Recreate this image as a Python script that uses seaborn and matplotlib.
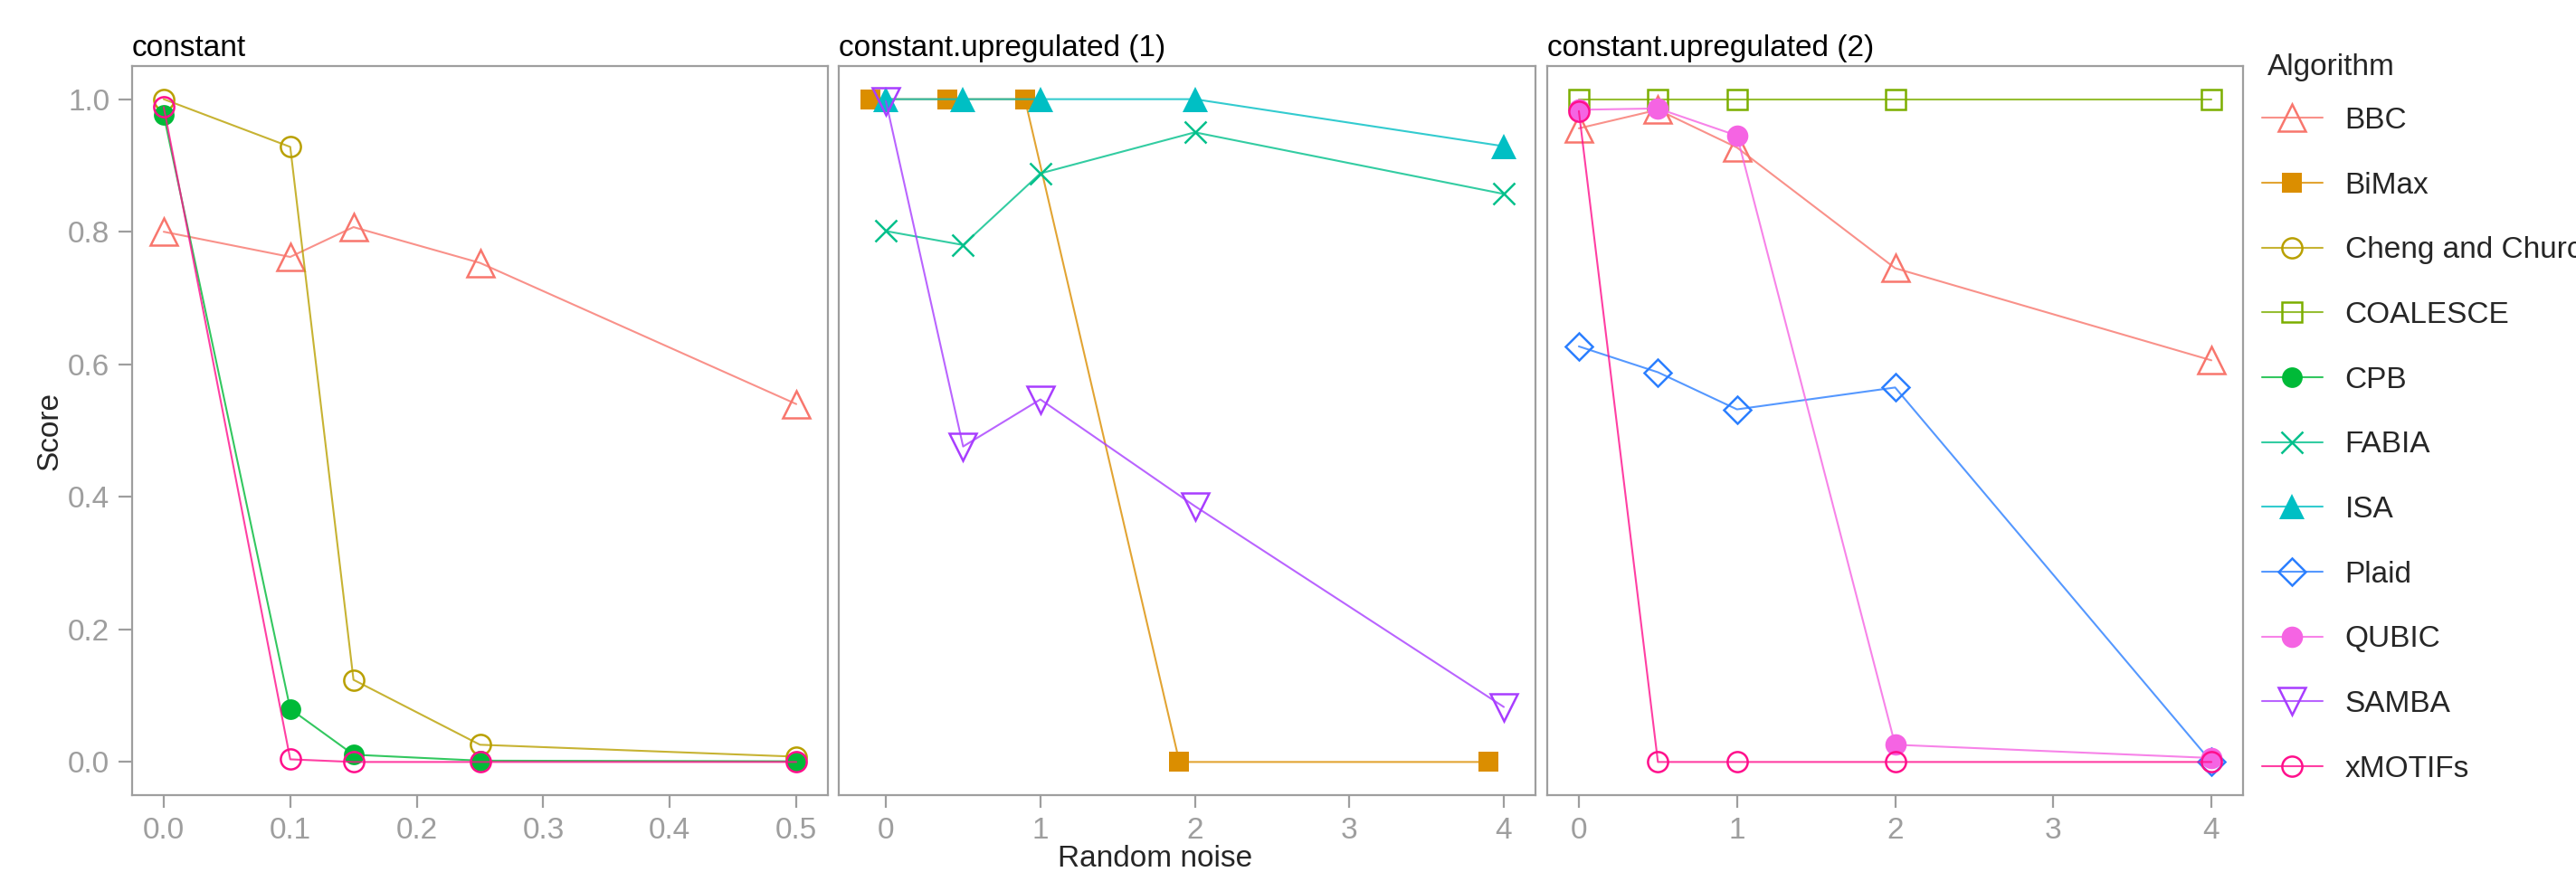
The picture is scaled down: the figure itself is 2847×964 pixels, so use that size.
import pandas as pd
import matplotlib
matplotlib.use("Agg")
import matplotlib.pyplot as plt
import seaborn as sns
from matplotlib.lines import Line2D

# facets and algorithms
panels = ["constant", "constant.upregulated (1)", "constant.upregulated (2)"]
algorithms = ["BBC", "BiMax", "Cheng and Church", "COALESCE", "CPB", "FABIA",
              "ISA", "Plaid", "QUBIC", "SAMBA", "xMOTIFs"]

# noise levels (x values)
noise_constant = [0.0, 0.1, 0.15, 0.25, 0.5]
noise_up = [0, 0.5, 1, 2, 4]
noise_bimax = [-0.1, 0.4, 0.9, 1.9, 3.9]

# scores, panel "constant"
bbc_1 = [0.800, 0.762, 0.807, 0.753, 0.540]
cheng_1 = [1.000, 0.928, 0.124, 0.026, 0.008]
cpb_1 = [0.976, 0.080, 0.011, 0.002, 0.001]
xmotifs_1 = [0.988, 0.004, 0.0, 0.0, 0.0]

# scores, panel "constant.upregulated (1)"
bimax_2 = [1.0, 1.0, 1.0, 0.0, 0.0]
fabia_2 = [0.801, 0.780, 0.888, 0.950, 0.857]
isa_2 = [1.0, 1.0, 1.0, 1.0, 0.929]
samba_2 = [0.997, 0.476, 0.547, 0.386, 0.083]

# scores, panel "constant.upregulated (2)"
bbc_3 = [0.956, 0.984, 0.927, 0.745, 0.606]
coalesce_3 = [1.0, 1.0, 1.0, 1.0, 1.0]
plaid_3 = [0.627, 0.588, 0.532, 0.565, 0.0]
qubic_3 = [0.984, 0.986, 0.945, 0.026, 0.006]
xmotifs_3 = [0.982, 0.0, 0.0, 0.0, 0.0]

colors = {
    "BBC": "#F8766D", "BiMax": "#DB8E00", "Cheng and Church": "#B9A000",
    "COALESCE": "#7CAE00", "CPB": "#00BA38", "FABIA": "#00C08B",
    "ISA": "#00BFC4", "Plaid": "#2B7FFF", "QUBIC": "#F564E3",
    "SAMBA": "#A83DFF", "xMOTIFs": "#FF0F8C",
}
# marker, filled, size
markers = {
    "BBC": ("^", False, 10.8), "BiMax": ("s", True, 7.9),
    "Cheng and Church": ("o", False, 8.0), "COALESCE": ("s", False, 7.9),
    "CPB": ("o", True, 8.2), "FABIA": ("x", False, 8.5),
    "ISA": ("^", True, 10.3), "Plaid": ("D", False, 7.8),
    "QUBIC": ("o", True, 8.5), "SAMBA": ("v", False, 10.8),
    "xMOTIFs": ("o", False, 8.0),
}

rows = []
def add(panel, algo, xs, ys):
    for x, y in zip(xs, ys):
        rows.append({"Panel": panel, "Algorithm": algo, "noise": x, "Score": y})

add(panels[0], "BBC", noise_constant, bbc_1)
add(panels[0], "Cheng and Church", noise_constant, cheng_1)
add(panels[0], "CPB", noise_constant, cpb_1)
add(panels[0], "xMOTIFs", noise_constant, xmotifs_1)
add(panels[1], "BiMax", noise_bimax, bimax_2)
add(panels[1], "FABIA", noise_up, fabia_2)
add(panels[1], "ISA", noise_up, isa_2)
add(panels[1], "SAMBA", noise_up, samba_2)
add(panels[2], "BBC", noise_up, bbc_3)
add(panels[2], "COALESCE", noise_up, coalesce_3)
add(panels[2], "Plaid", noise_up, plaid_3)
add(panels[2], "QUBIC", noise_up, qubic_3)
add(panels[2], "xMOTIFs", noise_up, xmotifs_3)
df = pd.DataFrame(rows)

sns.set_style("white")
plt.rcParams["font.family"] = ["Liberation Sans", "DejaVu Sans"]
grey = "#9E9E9E"
fs = 12
lw = 0.75
mew = 0.9

W, H = 2847, 964
fig = plt.figure(figsize=(W / 200, H / 200), dpi=200)
boxes = [(146, 915), (927, 1697), (1710, 2479)]
top, bottom = 73, 879
xlims = [(-0.025, 0.525), (-0.305, 4.205), (-0.2, 4.2)]
xticks = [[0, 0.1, 0.2, 0.3, 0.4, 0.5], [0, 1, 2, 3, 4], [0, 1, 2, 3, 4]]
xticklabels = [["0.0", "0.1", "0.2", "0.3", "0.4", "0.5"], ["0", "1", "2", "3", "4"], ["0", "1", "2", "3", "4"]]

for i, panel in enumerate(panels):
    l, r = boxes[i]
    ax = fig.add_axes([l / W, 1 - bottom / H, (r - l) / W, (bottom - top) / H])
    sub = df[df["Panel"] == panel]
    for algo in algorithms:
        d = sub[sub["Algorithm"] == algo]
        if d.empty:
            continue
        c = colors[algo]
        m, filled, ms = markers[algo]
        # line first, a bit lighter, then the markers on top
        sns.lineplot(data=d, x="noise", y="Score", color=c, alpha=0.8,
                     linewidth=lw, estimator=None, ax=ax)
        sns.lineplot(data=d, x="noise", y="Score", estimator=None, ax=ax,
                     linestyle="none", marker=m, markersize=ms,
                     markerfacecolor=c if filled else "none",
                     markeredgecolor=c, markeredgewidth=0 if filled and m != "x" else mew,
                     color=c)
    ax.set_xlim(*xlims[i])
    ax.set_ylim(-0.05, 1.05)
    ax.set_xticks(xticks[i])
    ax.set_xticklabels(xticklabels[i])
    ax.set_xlabel("")
    ax.set_ylabel("")
    if i == 0:
        ax.set_yticks([0, 0.2, 0.4, 0.6, 0.8, 1.0])
        ax.set_yticklabels(["0.0", "0.2", "0.4", "0.6", "0.8", "1.0"])
        ax.tick_params(axis="y", length=5.4, width=0.8, color=grey,
                       labelcolor=grey, labelsize=fs, pad=3.5, left=True)
    else:
        ax.set_yticks([])
    ax.tick_params(axis="x", length=5.2, width=0.8, color=grey,
                   labelcolor=grey, labelsize=fs, pad=3.5, bottom=True)
    for s in ax.spines.values():
        s.set_color(grey)
        s.set_linewidth(0.8)
    ax.set_title(panel, loc="left", fontsize=fs, color="black", pad=4)

fig.text(1277 / W, 1 - 950 / H, "Random noise", ha="center", va="center", fontsize=fs)
fig.text(55 / W, 1 - 476 / H, "Score", ha="center", va="center", rotation=90, fontsize=fs)
fig.text(2506 / W, 1 - 74 / H, "Algorithm", ha="left", va="center", fontsize=fs)

handles = []
for algo in algorithms:
    c = colors[algo]
    m, filled, ms = markers[algo]
    ln = Line2D([], [], color=c, alpha=0.8, linewidth=lw)
    mk = Line2D([], [], linestyle="none", marker=m, markersize=ms,
                markerfacecolor=c if filled else "none", markeredgecolor=c,
                markeredgewidth=0 if filled and m != "x" else mew)
    handles.append((ln, mk))

fig.legend(handles, algorithms, loc="upper left",
           bbox_to_anchor=(2500 / W, 1 - 118 / H),
           frameon=False, fontsize=fs,
           labelspacing=1.22, handlelength=2.0, handletextpad=0.75,
           borderaxespad=0, borderpad=0)

fig.savefig("out.png", dpi=200)
